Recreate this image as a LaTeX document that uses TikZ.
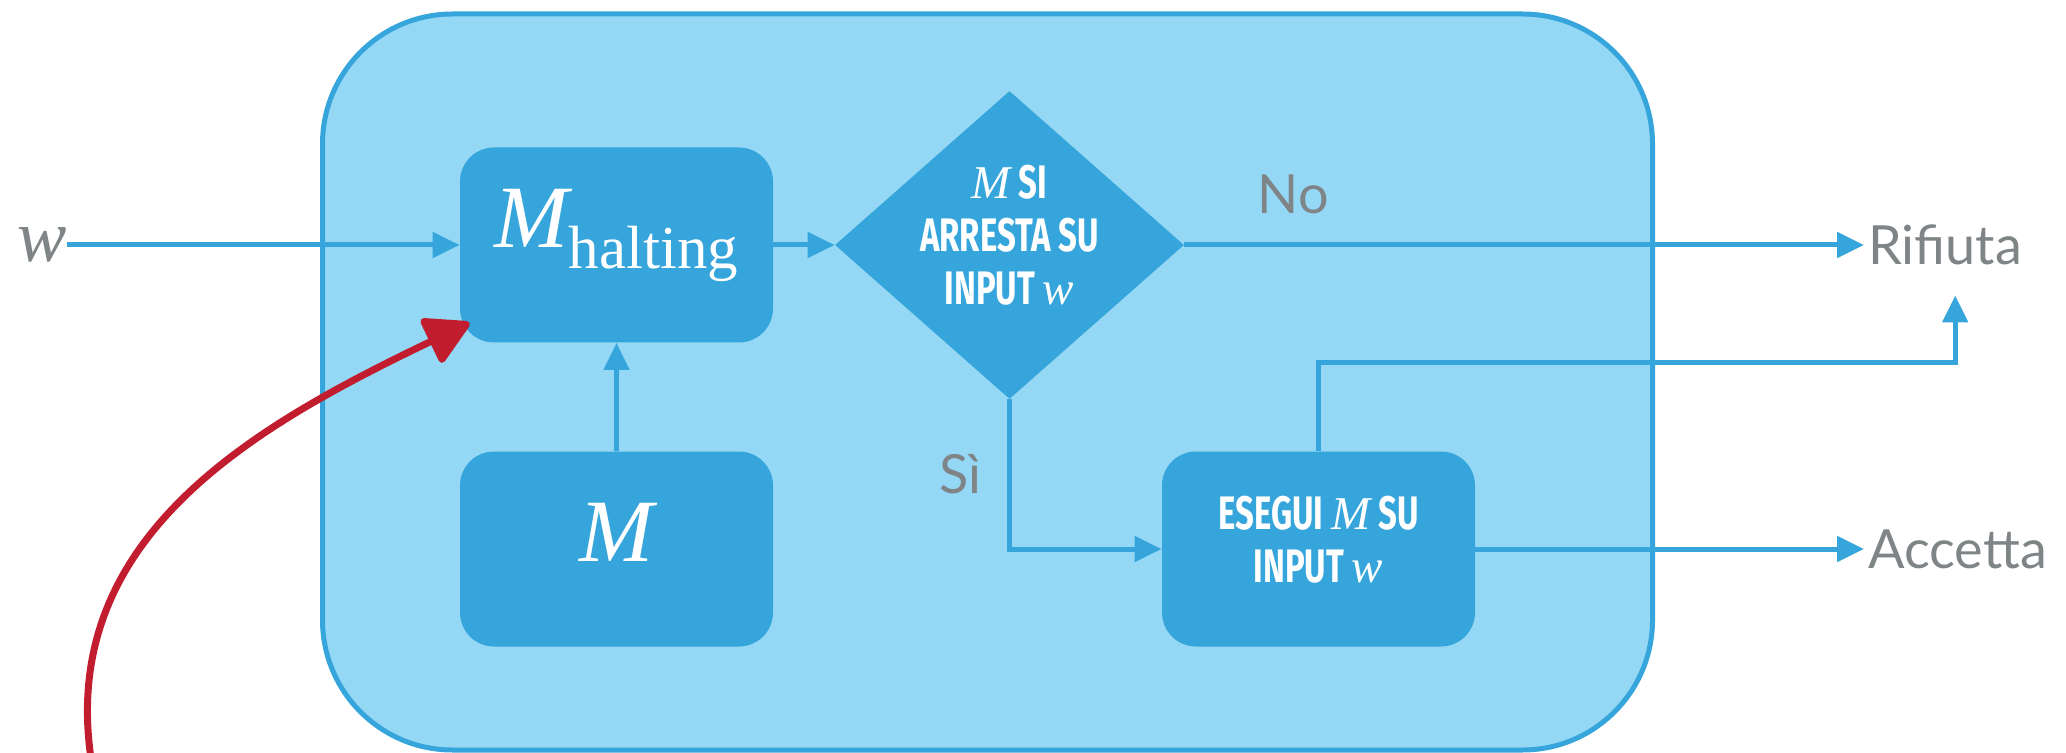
\documentclass[tikz,border=0pt]{standalone}
\usepackage{fontspec}
\usetikzlibrary{shapes.geometric,arrows.meta}
\newfontfamily\labelfont{Lato}
\newfontfamily\condfont[FakeStretch=0.70]{Fira Sans}
\newfontfamily\letterfont{Liberation Serif}
\newcommand\mvar[1]{{\letterfont\mdseries\itshape #1}}
\definecolor{boxblue}{HTML}{35A5DB}
\definecolor{paleblue}{HTML}{94D8F5}
\definecolor{labelgray}{HTML}{7F8487}
\definecolor{hintred}{HTML}{C21D2E}
\tikzset{
  container/.style={draw=boxblue, fill=paleblue, line width=2.5pt, rounded corners=65pt, minimum width=665pt, minimum height=368pt},
  block/.style={fill=boxblue, text=white, rounded corners=17pt, minimum width=156.5pt, minimum height=97.5pt, inner sep=0},
  test/.style={diamond, fill=boxblue, text=white, aspect=1.13, minimum width=174.5pt, minimum height=154pt, inner sep=-2.3pt},
  caps/.style={font=\condfont\bfseries\fontsize{23.5}{26.5}\selectfont, align=center},
  flow/.style={draw=boxblue, line width=2.5pt, -{Triangle[length=13.5pt,width=12.5pt]}},
  outcome/.style={text=labelgray, font=\labelfont\fontsize{27}{32}\selectfont, inner sep=2pt},
  hint/.style={draw=hintred, line width=3.5pt, -{Triangle[length=24pt,width=26pt,round]}}
}
\begin{document}
\begin{tikzpicture}[x=0.5pt, y=-0.5pt]
\useasboundingbox (0,0) rectangle (2066,753);
\node (decider) at (987.5,382) [container] {};
\node (input) at (42,245) [text=labelgray, font=\fontsize{37}{44}\selectfont, inner sep=0] {\mvar{w}};
\node (halting) at (616.5,245) [block] {\raisebox{-1.5pt}[0pt][0pt]{\fontsize{44.5}{50}\selectfont\mvar{M}\raisebox{-10.5pt}{\letterfont\fontsize{30.5}{36}\selectfont halting}}};
\node (machine) at (616.5,549) [block] {\raisebox{-6pt}[0pt][0pt]{\fontsize{44.5}{50}\selectfont\mvar{M}}};
\node (test) at (1009.5,245) [test, caps, text depth=10pt] {\mvar{M} SI\\ARRESTA SU\\INPUT \mvar{w}};
\node (run) at (1318.5,549) [block, caps, text depth=10pt] {ESEGUI \mvar{M} SU\\INPUT \mvar{w}};
\node (rifiuta) at (1864,245) [outcome, anchor=west] {Rifiuta};
\node (accetta) at (1864,549) [outcome, anchor=west] {Accetta};
\coordinate (scribble) at (92,765);
\draw[flow] (input) -- (halting);
\draw[flow] (machine) -- (halting);
\draw[flow] (halting) -- (test);
\draw[flow] (test) -- node[outcome, pos=0.16, above=12.5pt] {No} (rifiuta);
\draw[flow] (test) |- node[outcome, pos=0.25, left=11pt] {Sì} (run);
\draw[flow] (run) -- (accetta);
\draw[flow] (run.north) -- ++(0,-89) -| ([xshift=5pt,yshift=-13pt]rifiuta.south);
\draw[hint] (scribble) .. controls (55,540) and (250,428) .. ([xshift=5pt,yshift=10pt]halting.south west);
\end{tikzpicture}
\end{document}
